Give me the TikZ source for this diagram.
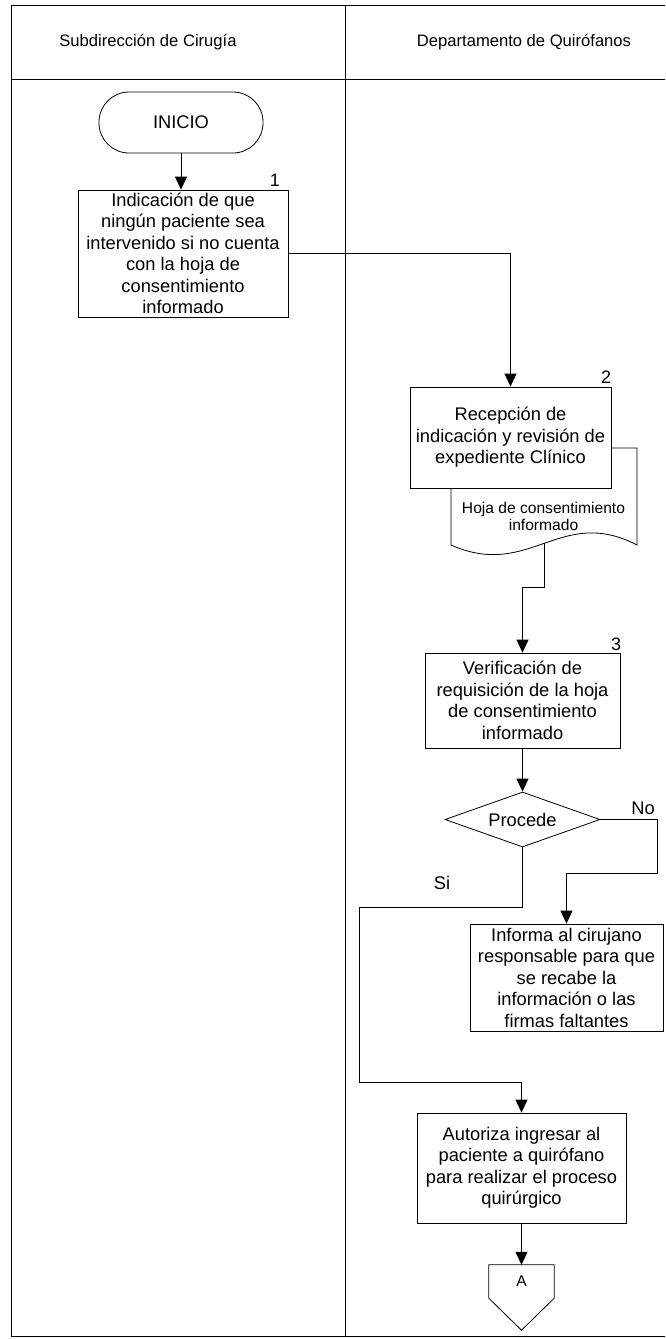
\documentclass[tikz,border=0pt]{standalone}
\usepackage{fontspec}
\setmainfont{Liberation Sans}
\usetikzlibrary{arrows.meta,shapes.geometric,calc}

\begin{document}
\begin{tikzpicture}[x=1pt,y=-1pt,
  txt/.style={font=\fontsize{18.3pt}{21.5pt}\selectfont, align=center, inner sep=0pt},
  hdr/.style={font=\fontsize{16.6pt}{19pt}\selectfont, inner sep=0pt},
  small/.style={font=\fontsize{15.6pt}{17pt}\selectfont, align=center, inner sep=0pt},
  box/.style={txt, draw, line width=0.8pt},
  flow/.style={line width=0.8pt, -{Triangle[length=13pt,width=12pt]}},
  lane/.style={line width=0.9pt},
  num/.style={font=\fontsize{18pt}{20pt}\selectfont, inner sep=0pt}
]
\useasboundingbox (0,0) rectangle (665,1339);

% swimlane frame
\draw[lane] (11,5) -- (665,5);
\draw[lane] (11,79) -- (665,79);
\draw[lane] (11,5) -- (11,1336) -- (665,1336);
\draw[lane] (345,5) -- (345,1336);

\node[hdr] (h1) at (148,42) {Subdirección de Cirugía};
\node[hdr] (h2) at (524,42) {Departamento de Quirófanos};

% start terminal
\node[txt, draw, line width=0.8pt, minimum width=164pt, minimum height=61pt,
      rounded corners=30pt] (inicio) at (181,122.5) {INICIO};

% process boxes
\node[box, minimum width=210pt, minimum height=127pt] (box1) at (183,253.5)
  {Indicación de que\\ningún paciente sea\\intervenido si no cuenta\\con la hoja de\\consentimiento\\informado};
\node[num] (n1) at (275,180) {1};

% document symbol behind box 2
\draw[line width=0.8pt] (611,448) -- (637,448) -- (637,545)
  .. controls (560,505) and (530,580) .. (451,545) -- (451,488);
\node[small] (doc) at (543.5,516) {Hoja de consentimiento\\informado};
\coordinate (docout) at (544,543);

\node[box, minimum width=201pt, minimum height=101pt] (box2) at (510.5,437.5)
  {Recepción de\\indicación y revisión de\\expediente Clínico};
\node[num] (n2) at (606,377) {2};

\node[box, minimum width=195pt, minimum height=95pt] (box3) at (522.5,700.5)
  {Verificación de\\requisición de la hoja\\de consentimiento\\informado};
\node[num] (n3) at (616,644) {3};

% decision
\node[txt, draw, line width=0.8pt, shape=diamond, aspect=2.8,
      minimum width=155pt, minimum height=55pt] (dec) at (522.5,819.5) {Procede};
\node[txt] (no) at (643,808) {No};
\node[txt] (si) at (442,883) {Si};

\node[box, minimum width=193pt, minimum height=107pt] (inf) at (566.5,977.5)
  {Informa al cirujano\\responsable para que\\se recabe la\\información o las\\firmas faltantes};

\node[box, minimum width=209pt, minimum height=110pt] (aut) at (521.5,1168)
  {Autoriza ingresar al\\paciente a quirófano\\para realizar el proceso\\quirúrgico};

% off-page connector
\node[small, minimum width=65pt, minimum height=33pt] (conA) at (521.5,1281.5) {A};
\draw[line width=0.8pt] (conA.north west) -- (conA.north east) -- (conA.south east)
  -- ($(conA.south)+(0,32)$) -- (conA.south west) -- cycle;

% connectors
\draw[flow] (inicio.south) -- (inicio.south |- box1.north);
\draw[flow] (box1.east) -| (box2.north);
\draw[flow] (docout) -- ++(0,44) -| (box3.north);
\draw[flow] (box3.south) -- (dec.north);
\draw[flow] (dec.east) -- (657,819.5) -- (657,873) -| (inf.north);
\draw[flow] (dec.south) -- (522.5,907) -- (359,907) -- (359,1082) -| (aut.north);
\draw[flow] (aut.south) -- (conA.north);
\end{tikzpicture}
\end{document}
